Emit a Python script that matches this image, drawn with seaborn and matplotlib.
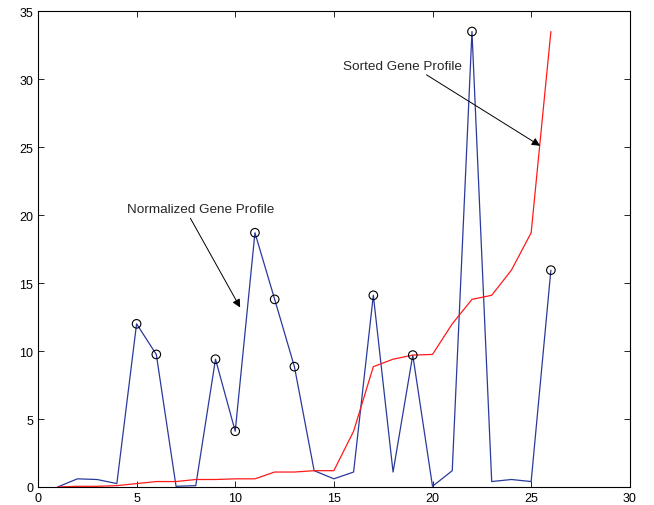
import matplotlib
matplotlib.use("Agg")
import matplotlib.pyplot as plt
import seaborn as sns
import pandas as pd

positions = list(range(1, 27))
normalized = [0.0, 0.6, 0.55, 0.25, 12.0, 9.75, 0.05, 0.1, 9.4, 4.1, 18.7, 13.8, 8.85,
              1.2, 0.6, 1.1, 14.1, 1.1, 9.7, 0.05, 1.2, 33.5, 0.4, 0.55, 0.4, 15.95]
sorted_profile = [0.0, 0.05, 0.05, 0.1, 0.25, 0.4, 0.4, 0.55, 0.55, 0.6, 0.6, 1.1, 1.1,
                  1.2, 1.2, 4.1, 8.85, 9.4, 9.7, 9.75, 12.0, 13.8, 14.1, 15.95, 18.7, 33.5]
marked = [5, 6, 9, 10, 11, 12, 13, 17, 19, 22, 26]

df = pd.DataFrame({"x": positions, "norm": normalized, "sorted": sorted_profile})
dm = df[df["x"].isin(marked)]

sns.set_style("ticks")
plt.rcParams["font.family"] = ["Liberation Sans", "DejaVu Sans"]
fig = plt.figure(figsize=(6.54, 5.06), dpi=100)
ax = fig.add_axes([0.058, 0.0356, 0.905, 0.9404])

sns.lineplot(data=df, x="x", y="norm", ax=ax, color="#2a3a9c", linewidth=0.9)
sns.lineplot(data=df, x="x", y="sorted", ax=ax, color="#ff1a1a", linewidth=0.9)
sns.scatterplot(data=dm, x="x", y="norm", ax=ax, marker="o", s=38,
                facecolor="none", edgecolor="black", linewidth=0.8, zorder=5)

ax.set_xlim(0, 30)
ax.set_ylim(0, 35)
ax.set_xticks(range(0, 31, 5))
ax.set_yticks(range(0, 36, 5))
ax.set_xlabel("")
ax.set_ylabel("")
for s in ax.spines.values():
    s.set_visible(True)
    s.set_linewidth(0.8)
    s.set_color("black")
ax.tick_params(direction="in", length=4, width=0.6, labelsize=9,
               top=True, right=True, colors="black")

ax.annotate("Normalized Gene Profile", xy=(10.25, 13.2), xytext=(4.5, 20.45),
            fontsize=9.7, va="center", ha="left",
            arrowprops=dict(arrowstyle="-|>", color="black", lw=0.7,
                            shrinkA=0, shrinkB=0, mutation_scale=12,
                            relpos=(0.42, 0.0)))
ax.annotate("Sorted Gene Profile", xy=(25.45, 25.1), xytext=(15.45, 31.0),
            fontsize=9.7, va="center", ha="left",
            arrowprops=dict(arrowstyle="-|>", color="black", lw=0.7,
                            shrinkA=0, shrinkB=0, mutation_scale=12,
                            relpos=(0.66, 0.0)))

fig.savefig("out.png", dpi=100)
